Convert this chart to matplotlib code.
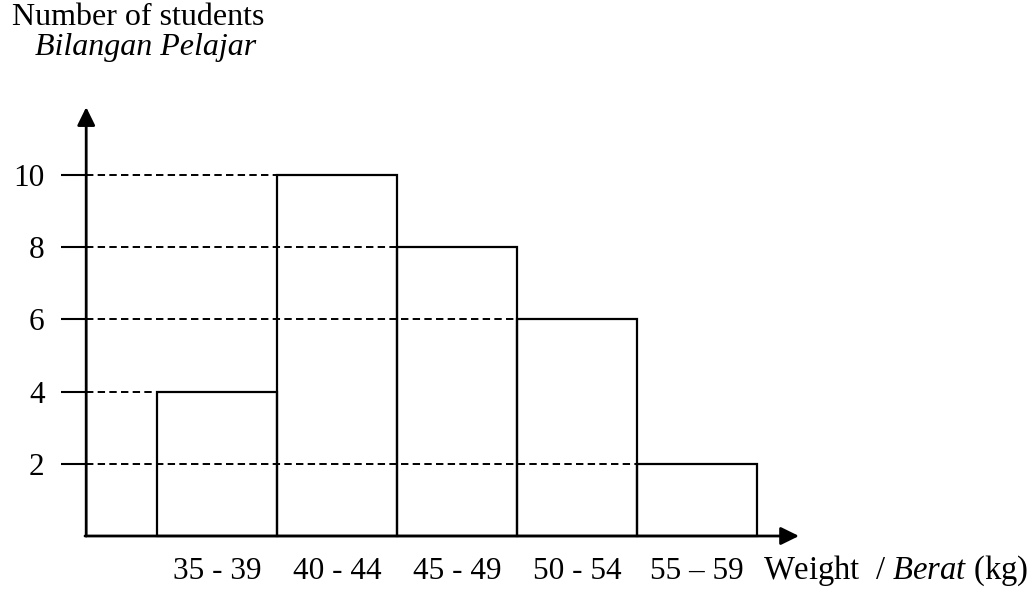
import matplotlib.pyplot as plt

plt.rcParams['font.family'] = ['Liberation Serif', 'DejaVu Serif']
plt.rcParams['mathtext.fontset'] = 'custom'
plt.rcParams['mathtext.rm'] = 'Liberation Serif'
plt.rcParams['mathtext.it'] = 'Liberation Serif:italic'

# Datos del histograma
clases = ['35 - 39', '40 - 44', '45 - 49', '50 - 54', '55 \u2013 59']
alumnos = [4, 10, 8, 6, 2]
marcas_y = [2, 4, 6, 8, 10]

fig = plt.figure(figsize=(10.33, 5.90), dpi=100)
ax = fig.add_axes([0, 0, 1, 1])

# escala: 120 px por clase, 36.1 px por alumno
x0_eje = -1.09
ax.set_xlim(-217 / 120, (1033 - 217) / 120)
ax.set_ylim(-54 / 36.1, 536 / 36.1)

for s in ax.spines.values():
    s.set_visible(False)
ax.spines['left'].set_position(('data', x0_eje))
ax.spines['bottom'].set_position(('data', 0))

ax.set_yticks(marcas_y)
ax.set_yticklabels([str(v) for v in marcas_y], fontsize=22.5)
ax.tick_params(axis='y', direction='out', length=18, width=1.5, pad=12)
ax.set_xticks(range(len(clases)))
ax.set_xticklabels(clases, fontsize=22.5)
ax.tick_params(axis='x', length=0, pad=15)

# lineas discontinuas hasta el borde izquierdo de cada barra
for i, h in enumerate(alumnos):
    ax.hlines(h, x0_eje, i - 0.5, colors='k', lw=1.4,
              linestyles=(0, (3.8, 2.2)), zorder=1)

ax.bar(range(len(clases)), alumnos, width=1, fill=False,
       edgecolor='k', lw=1.6, zorder=2)

# ejes con flecha
flecha = dict(arrowstyle='-|>,head_length=0.55,head_width=0.27',
              mutation_scale=20, lw=2, color='k', shrinkA=0, shrinkB=0)
ax.annotate('', xy=(x0_eje, 11.88), xytext=(x0_eje, 0), arrowprops=flecha)
ax.annotate('', xy=(4.85, 0), xytext=(x0_eje - 0.01, 0), arrowprops=flecha)

ax.text(x0_eje + (763 - 86) / 120, -0.95, r'Weight  / $\mathit{Berat}$ (kg)',
        fontsize=23.5, ha='left', va='center')
ax.text(-1.71, (536 - 25) / 36.1, 'Number of students', fontsize=23,
        ha='left', va='baseline')
ax.text(-1.52, (536 - 55) / 36.1, 'Bilangan Pelajar', fontsize=23,
        style='italic', ha='left', va='baseline')

fig.savefig('out.png', dpi=100)
